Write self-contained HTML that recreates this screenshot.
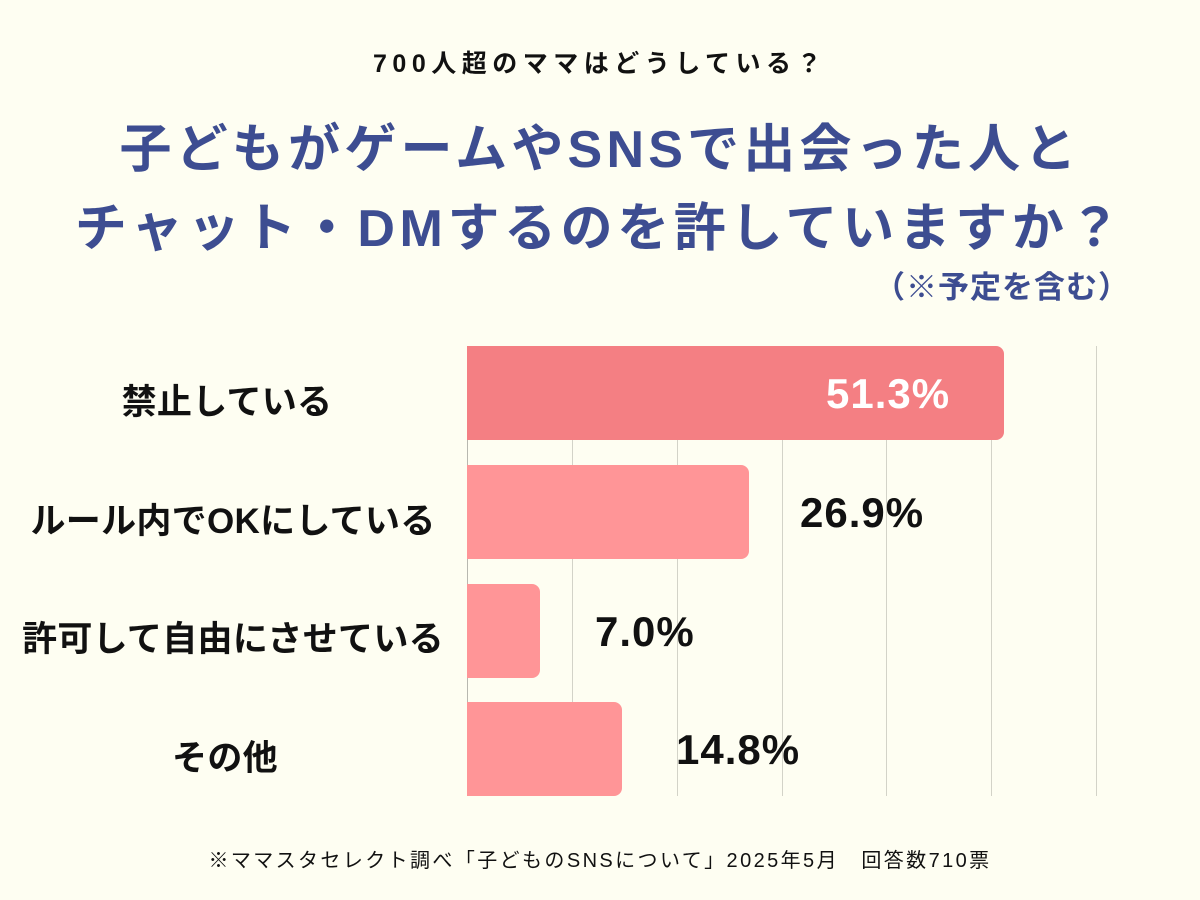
<!DOCTYPE html>
<html><head><meta charset="utf-8"><style>
body{margin:0;width:1200px;height:900px;background:#FEFEF2;position:relative;overflow:hidden;font-family:"Liberation Sans","Noto Sans CJK JP",sans-serif;font-weight:bold;color:#111}
.a{position:absolute;white-space:nowrap}
.t{color:#3D4D91;font-size:52px;left:0;width:1200px;text-align:center;letter-spacing:4px}
.g{position:absolute;top:346px;height:450px;width:1px;background:#d3d3c8}
.bar{position:absolute;left:467px;height:94px;background:#FF9597;border-radius:0 8px 8px 0}
.lab{position:absolute;font-size:35px;text-align:center;width:460px;left:3px;letter-spacing:0.3px}
.v{position:absolute;font-size:42px;letter-spacing:1px}
</style></head><body>
<div class="a" style="top:44px;left:0;width:1200px;text-align:center;font-size:25px;letter-spacing:5.5px">700人超のママはどうしている？</div>
<div class="a t" style="top:107px;letter-spacing:4.2px">子どもがゲームやSNSで出会った人と</div>
<div class="a t" style="top:186px;letter-spacing:4.6px">チャット・DMするのを許していますか？</div>
<div class="a" style="top:262px;right:70px;font-size:31px;color:#3D4D91;letter-spacing:1px">（※予定を含む）</div>
<div class="g" style="left:467px;background:#b8b8b0"></div>
<div class="g" style="left:572px"></div><div class="g" style="left:677px"></div><div class="g" style="left:782px"></div><div class="g" style="left:886px"></div><div class="g" style="left:991px"></div><div class="g" style="left:1096px"></div>
<div class="bar" style="top:346px;width:537px;background:#F47F83"></div>
<div class="bar" style="top:465px;width:282px"></div>
<div class="bar" style="top:584px;width:73px"></div>
<div class="bar" style="top:702px;width:155px"></div>
<div class="lab" style="top:374px;left:-3px">禁止している</div>
<div class="lab" style="top:493px">ルール内でOKにしている</div>
<div class="lab" style="top:611px">許可して自由にさせている</div>
<div class="lab" style="top:730px;left:-5px">その他</div>
<div class="v" style="top:370px;left:826px;color:#fff">51.3%</div>
<div class="v" style="top:489px;left:800px">26.9%</div>
<div class="v" style="top:608px;left:595px">7.0%</div>
<div class="v" style="top:726px;left:676px">14.8%</div>
<div class="a" style="top:844px;left:0;width:1200px;text-align:center;font-size:20px;font-weight:normal;letter-spacing:2.4px">※ママスタセレクト調べ「子どものSNSについて」2025年5月　回答数710票</div>
</body></html>
